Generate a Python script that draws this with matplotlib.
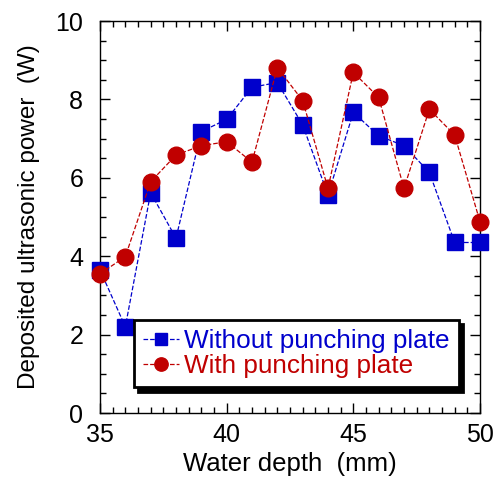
import matplotlib.pyplot as plt
from matplotlib.ticker import MultipleLocator

plt.rcParams['font.family'] = ['Liberation Sans', 'DejaVu Sans']

# water depth (mm)
depth = [35, 36, 37, 38, 39, 40, 41, 42, 43, 44, 45, 46, 47, 48, 49, 50]
# deposited ultrasonic power (W)
without_plate = [3.65, 2.2, 5.62, 4.46, 7.18, 7.49, 8.31, 8.43, 7.35, 5.56, 7.67, 7.07, 6.82, 6.14, 4.35, 4.35]
with_plate = [3.55, 3.99, 5.9, 6.58, 6.82, 6.92, 6.4, 8.81, 7.97, 5.73, 8.69, 8.05, 5.73, 7.75, 7.09, 4.88]

fig = plt.figure(figsize=(4.97, 4.83), dpi=100)
ax = fig.add_axes([0.2012, 0.1449, 0.7646, 0.8116])

ax.plot(depth, without_plate, color='#0000cc', ls='--', lw=0.9, marker='s', ms=11.5,
        label='Without punching plate', clip_on=False, zorder=3)
ax.plot(depth, with_plate, color='#c00000', ls='--', lw=0.9, marker='o', ms=12,
        label='With punching plate', clip_on=False, zorder=3)

ax.set_xlim(35, 50)
ax.set_ylim(0, 10)
ax.xaxis.set_major_locator(MultipleLocator(5))
ax.xaxis.set_minor_locator(MultipleLocator(0.5))
ax.yaxis.set_major_locator(MultipleLocator(2))
ax.yaxis.set_minor_locator(MultipleLocator(0.5))
ax.tick_params(which='both', direction='in', top=True, right=True, width=1)
ax.tick_params(which='major', length=7, labelsize=18)
ax.tick_params(axis='x', which='major', pad=7)
ax.tick_params(axis='y', which='major', pad=12)
ax.tick_params(which='minor', length=4)
for s in ax.spines.values():
    s.set_linewidth(1)

ax.set_xlabel('Water depth  (mm)', fontsize=18.5, labelpad=4)
ax.set_ylabel('Deposited ultrasonic power  (W)', fontsize=17.5, labelpad=11)

leg = ax.legend(loc='lower left', bbox_to_anchor=(0.054, 0.032), fontsize=18.8,
                labelcolor='linecolor', fancybox=False, framealpha=1,
                edgecolor='black', handlelength=1.4, handletextpad=0.2,
                borderpad=0.35, labelspacing=0.05, markerscale=0.8,
                shadow={'color': 'black', 'alpha': 1, 'ox': 3, 'oy': -3})
leg.get_frame().set_linewidth(2)

fig.savefig('out.png', dpi=100)
